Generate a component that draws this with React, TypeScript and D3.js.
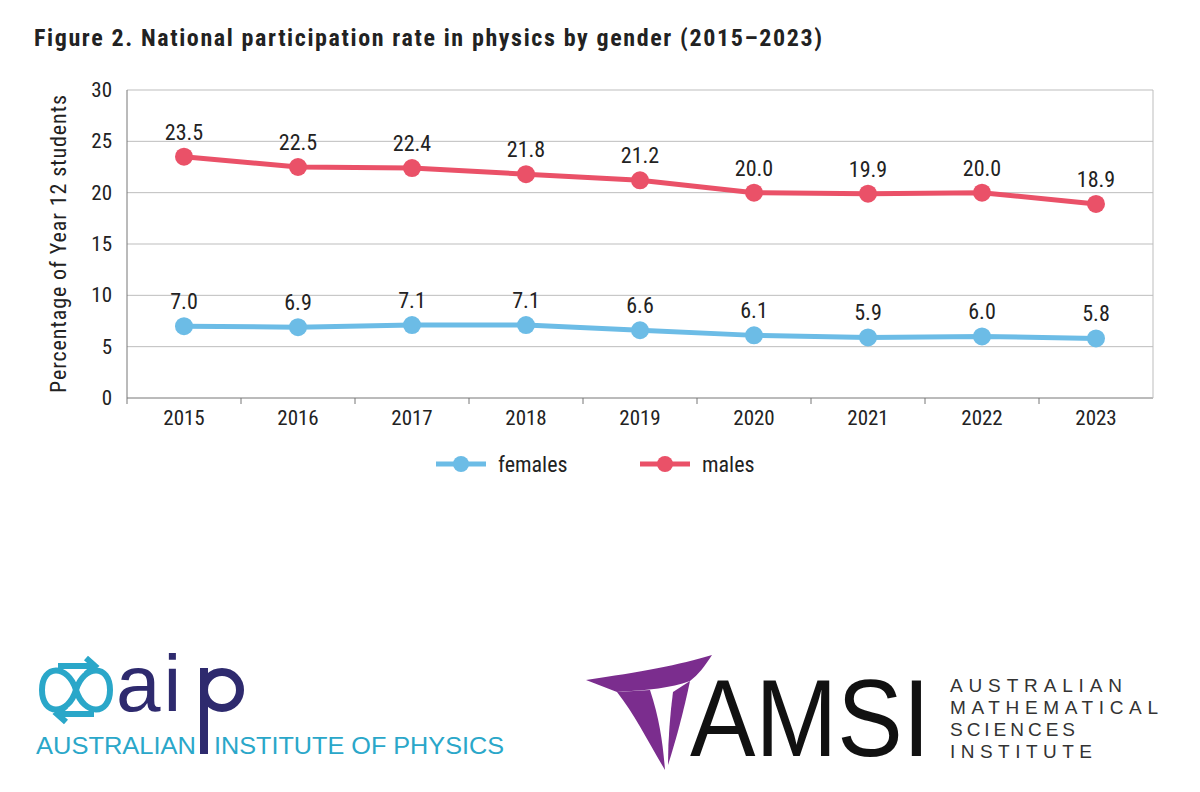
import React from "react";
import * as d3 from "d3";

const years = ["2015", "2016", "2017", "2018", "2019", "2020", "2021", "2022", "2023"];
const females = [7.0, 6.9, 7.1, 7.1, 6.6, 6.1, 5.9, 6.0, 5.8];
const males = [23.5, 22.5, 22.4, 21.8, 21.2, 20.0, 19.9, 20.0, 18.9];
const yTicks = [0, 5, 10, 15, 20, 25, 30];

const W = 1200;
const H = 792;
const FONT = "'Liberation Sans Narrow', 'Roboto Condensed', 'Liberation Sans', sans-serif";
const SANS = "'Liberation Sans', sans-serif";
const FEM = "#6cbce6";
const MAL = "#ea5168";

export default function App() {
  const x = d3.scaleBand<string>().domain(years).range([127, 1153]);
  const y = d3.scaleLinear().domain([0, 30]).range([398, 90]);
  const cx = (d: string) => (x(d) as number) + x.bandwidth() / 2;
  const line = d3
    .line<number>()
    .x((_, i) => cx(years[i]))
    .y((v) => y(v));

  const series = [
    { key: "females", data: females, color: FEM },
    { key: "males", data: males, color: MAL },
  ];

  return (
    <svg width={W} height={H} style={{ position: "absolute", left: 0, top: 0, background: "#fff" }}>
      <rect width={W} height={H} fill="#fff" />
      <text x={34} y={46} fontFamily={FONT} fontWeight="bold" fontSize={24} fill="#222" textLength={788} lengthAdjust="spacing">
        Figure 2. National participation rate in physics by gender (2015–2023)
      </text>

      {yTicks.map((t) => (
        <g key={t}>
          <line x1={127} x2={1153} y1={y(t)} y2={y(t)} stroke={t === 0 ? "#777" : "#bdbdbd"} strokeWidth={1} />
          <text x={112} y={y(t) + 7} textAnchor="end" fontFamily={FONT} fontSize={21} fill="#222">
            {t}
          </text>
        </g>
      ))}
      <line x1={127} x2={127} y1={y(30)} y2={y(0)} stroke="#777" />
      <line x1={1153} x2={1153} y1={y(30)} y2={y(0)} stroke="#bdbdbd" />
      {years.map((yr, i) => (
        <g key={yr}>
          <line x1={127 + i * x.bandwidth()} x2={127 + i * x.bandwidth()} y1={398} y2={404} stroke="#777" />
          <text x={cx(yr)} y={425} textAnchor="middle" fontFamily={FONT} fontSize={21} fill="#222">
            {yr}
          </text>
        </g>
      ))}
      <text
        transform={`translate(66,${y(15)}) rotate(-90)`}
        textAnchor="middle"
        fontFamily={FONT}
        fontSize={22}
        fill="#222"
        textLength={298}
        lengthAdjust="spacing"
      >
        Percentage of Year 12 students
      </text>

      {series.map((s) => (
        <g key={s.key}>
          <path d={line(s.data) as string} fill="none" stroke={s.color} strokeWidth={5} />
          {s.data.map((v, i) => (
            <g key={i}>
              <circle cx={cx(years[i])} cy={y(v)} r={9} fill={s.color} />
              <text x={cx(years[i])} y={y(v) - 17} textAnchor="middle" fontFamily={FONT} fontSize={22} fill="#222">
                {v.toFixed(1)}
              </text>
            </g>
          ))}
        </g>
      ))}

      {/* legend */}
      {[
        { label: "females", color: FEM, x0: 436 },
        { label: "males", color: MAL, x0: 640 },
      ].map((l) => (
        <g key={l.label}>
          <line x1={l.x0} x2={l.x0 + 50} y1={464} y2={464} stroke={l.color} strokeWidth={5} />
          <circle cx={l.x0 + 25} cy={464} r={8} fill={l.color} />
          <text x={l.x0 + 62} y={472} fontFamily={FONT} fontSize={22} fill="#222">
            {l.label}
          </text>
        </g>
      ))}

      {/* AIP logo */}
      <g fill="none" stroke="#2aa7c9" strokeWidth={6}>
        <path d="M42,690 C42,664 68,664 76,690 C84,716 110,716 110,690 C110,664 84,664 76,690 C68,716 42,716 42,690 Z" />
        <path d="M58,666 L94,666 M86,658 L95,666 L86,674" />
        <path d="M94,714 L58,714 M66,706 L57,714 L66,722" />
      </g>
      <text x={116} y={711} fontFamily={SANS} fontSize={80} fill="#2e2a6e" letterSpacing={3}>
        ai
      </text>
      <rect x={200} y={668} width={8} height={86} fill="#2e2a6e" />
      <circle cx={222} cy={690} r={18} fill="none" stroke="#2e2a6e" strokeWidth={8} />
      <text x={36} y={754} fontFamily={SANS} fontSize={24} fill="#2aa7c9" textLength={160} lengthAdjust="spacingAndGlyphs">
        AUSTRALIAN
      </text>
      <text x={214} y={754} fontFamily={SANS} fontSize={24} fill="#2aa7c9" textLength={290} lengthAdjust="spacingAndGlyphs">
        INSTITUTE OF PHYSICS
      </text>

      {/* AMSI logo */}
      <g fill="#7b2d8e">
        <path d="M586,680 C640,672 680,665 712,655 C705,666 698,675 690,681 C670,688 650,690 617,692 Z" />
        <path d="M617,692 L650,690 C660,720 663,745 665,770 C650,745 635,715 617,692 Z" />
        <path d="M673,692 L690,681 C684,710 676,740 668,765 C668,740 670,715 673,692 Z" />
      </g>
      <text x={690} y={756} fontFamily={SANS} fontSize={110} fill="#111" textLength={240} lengthAdjust="spacingAndGlyphs">
        AMSI
      </text>
      {[
        { t: "AUSTRALIAN", w: 172 },
        { t: "MATHEMATICAL", w: 208 },
        { t: "SCIENCES", w: 125 },
        { t: "INSTITUTE", w: 142 },
      ].map((r, i) => (
        <text key={r.t} x={950} y={692 + i * 22} fontFamily={SANS} fontSize={19} fill="#333" textLength={r.w} lengthAdjust="spacing">
          {r.t}
        </text>
      ))}
    </svg>
  );
}
